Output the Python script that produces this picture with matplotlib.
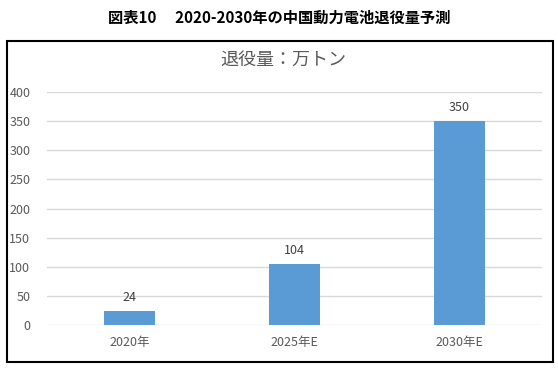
import matplotlib.pyplot as plt
from matplotlib.patches import Rectangle

plt.rcParams['font.family'] = ['Noto Sans CJK JP', 'DejaVu Sans']

# data
categories = ['2020年', '2025年E', '2030年E']
values = [24, 104, 350]
yticks = [0, 50, 100, 150, 200, 250, 300, 350, 400]

fig = plt.figure(figsize=(5.58, 3.71), dpi=100)

# outer frame box
fig.patches.append(Rectangle((0.0125, 0.024), 0.978, 0.865, transform=fig.transFigure,
                             fill=False, edgecolor='black', linewidth=1.5))

fig.text(0.5, 0.952, '図表10　 2020-2030年の中国動力電池退役量予測', ha='center', va='center',
         fontsize=11, fontweight='bold', color='black')
fig.text(0.507, 0.838, '退役量：万トン', ha='center', va='center', fontsize=13, color='#595959')

ax = fig.add_axes([0.0842, 0.124, 0.887, 0.628])
x = range(len(categories))
bars = ax.bar(x, values, width=0.31, color='#5b9bd5', zorder=3)
for xi, v in zip(x, values):
    ax.text(xi, v + 12, str(v), ha='center', va='bottom', fontsize=9, color='#404040')

ax.set_xlim(-0.5, 2.5)
ax.set_ylim(0, 400)
ax.set_yticks(yticks)
ax.set_xticks(list(x))
ax.set_xticklabels(categories)
ax.tick_params(axis='both', length=0, labelsize=9, colors='#595959')
ax.tick_params(axis='y', pad=12)
ax.tick_params(axis='x', pad=8)
ax.grid(axis='y', color='#d9d9d9', linewidth=1, zorder=0)
for s in ax.spines.values():
    s.set_visible(False)

fig.savefig('out.png', dpi=100)
